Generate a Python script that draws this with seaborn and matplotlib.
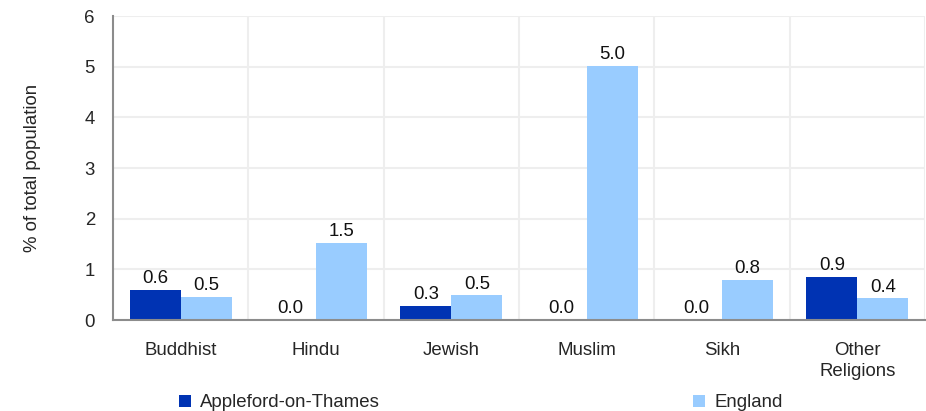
import pandas as pd
import matplotlib
matplotlib.use('Agg')
import matplotlib.pyplot as plt
import seaborn as sns
from matplotlib.patches import Patch

# data
categories = ['Buddhist', 'Hindu', 'Jewish', 'Muslim', 'Sikh', 'Other\nReligions']
appleford = [0.59, 0.0, 0.28, 0.0, 0.0, 0.86]
england = [0.46, 1.52, 0.49, 5.02, 0.79, 0.43]
series_names = ['Appleford-on-Thames', 'England']
colors = ['#0033b3', '#99ccff']

df = pd.DataFrame({
    'category': categories * 2,
    'value': appleford + england,
    'area': [series_names[0]] * len(categories) + [series_names[1]] * len(categories),
})

FS = 13.4

sns.set_theme(style='white')
plt.rcParams['font.family'] = ['Liberation Sans', 'DejaVu Sans']

fig = plt.figure(figsize=(9.26, 4.11), dpi=100)
ax = fig.add_axes([0.122, 0.221, 0.877, 0.74])

sns.barplot(data=df, x='category', y='value', hue='area', palette=colors,
            width=0.755, saturation=1, linewidth=0, ax=ax, legend=False)

for cont in ax.containers:
    ax.bar_label(cont, fmt='%.1f', padding=2, fontsize=FS, color='#111111')

n = len(categories)
ax.set_xlim(-0.5, n - 0.5)
ax.set_ylim(0, 6)
ax.set_yticks(range(0, 7))

# light grid: horizontal at ticks, vertical at category boundaries
ax.set_axisbelow(True)
ax.yaxis.grid(True, color='#eeeeee', linewidth=1.5)
bounds = [i - 0.5 for i in range(n + 1)]
for b in bounds[1:]:
    ax.axvline(b, color='#eeeeee', linewidth=1.5, zorder=0)

ax.set_xticks(range(n))
ax.set_xticklabels(categories, fontsize=FS, linespacing=1.25)
ax.set_xticks(bounds, minor=True)
ax.tick_params(axis='x', which='major', length=0, pad=16)
ax.tick_params(axis='x', which='minor', length=5, width=1.5, color='#8c8c8c', direction='out')
ax.tick_params(axis='y', length=5, width=1.5, color='#8c8c8c', direction='out', labelsize=FS, pad=8)

for side in ['top', 'right']:
    ax.spines[side].set_visible(False)
for side in ['left', 'bottom']:
    ax.spines[side].set_color('#8c8c8c')
    ax.spines[side].set_linewidth(1.5)

ax.set_xlabel('')
ax.set_ylabel('% of total population', fontsize=FS, labelpad=31)

handles = [Patch(facecolor=c, edgecolor='none') for c in colors]
fig.legend(handles, series_names, loc='center left', bbox_to_anchor=(0.193, 0.02),
           ncol=2, frameon=False, fontsize=FS, handlelength=0.65, handleheight=0.65,
           handletextpad=0.5, columnspacing=16.8, borderaxespad=0, borderpad=0)

fig.savefig('out.png', dpi=100)
